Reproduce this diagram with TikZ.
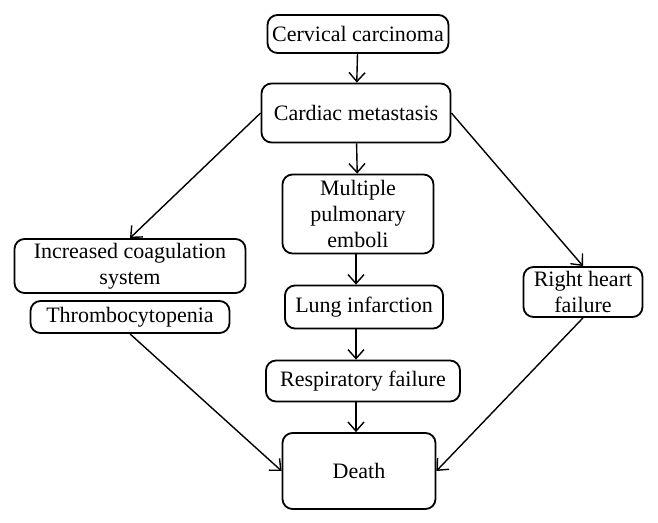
\documentclass[tikz,border=0pt]{standalone}
\usepackage{fontspec}
\setmainfont{Liberation Serif}
\usetikzlibrary{arrows.meta,positioning}
\tikzstyle{stage} = [draw, line width=0.9pt, rounded corners=5pt, inner sep=0pt, align=center, font=\fontsize{11}{13}\selectfont]
\tikzstyle{arrow} = [line width=0.7pt, -{Straight Barb[length=4.5pt,width=8pt]}]

\begin{document}
\begin{tikzpicture}[x=0.5pt, y=-0.5pt]
\useasboundingbox (0,0) rectangle (658,523);
% Main chain
\node[stage, minimum width=90.5pt, minimum height=19pt] (cervical) at (358,34) {Cervical carcinoma};
\node[stage, minimum width=94.5pt, minimum height=29.5pt] (cardiac) at (356,113) {Cardiac metastasis};
\node[stage, minimum width=75.5pt, minimum height=39.5pt] (emboli) at (358,214) {Multiple\\pulmonary\\emboli};
\node[stage, minimum width=79pt, minimum height=21.5pt] (lung) at (364,307) {Lung infarction};
\node[stage, minimum width=97pt, minimum height=20.5pt] (resp) at (363,381) {Respiratory failure};
\node[stage, minimum width=76.5pt, minimum height=38pt] (death) at (359,471) {Death};

% Side branches
\node[stage, minimum width=115.5pt, minimum height=27pt] (coag) at (130,266) {Increased coagulation\\system};
\node[stage, minimum width=99.5pt, minimum height=16pt] (thrombo) at (130,317) {Thrombocytopenia};
\node[stage, minimum width=59.5pt, minimum height=25pt] (rhf) at (583,292) {Right heart\\failure};

% Arrows
\draw[arrow] (cervical) -- (cardiac);
\draw[arrow] (cardiac) -- (emboli);
\draw[arrow] (emboli.south -| cardiac) -- (lung.north -| cardiac);
\draw[arrow] (lung.south -| cardiac) -- (resp.north -| cardiac);
\draw[arrow] (resp.south -| cardiac) -- (death.north -| cardiac);
\draw[arrow] (cardiac.west) -- (coag.north);
\draw[arrow] (cardiac.east) -- (rhf.north);
\draw[arrow] (thrombo.south) -- (death.west);
\draw[arrow] (rhf.south) -- (death.east);
\end{tikzpicture}
\end{document}
